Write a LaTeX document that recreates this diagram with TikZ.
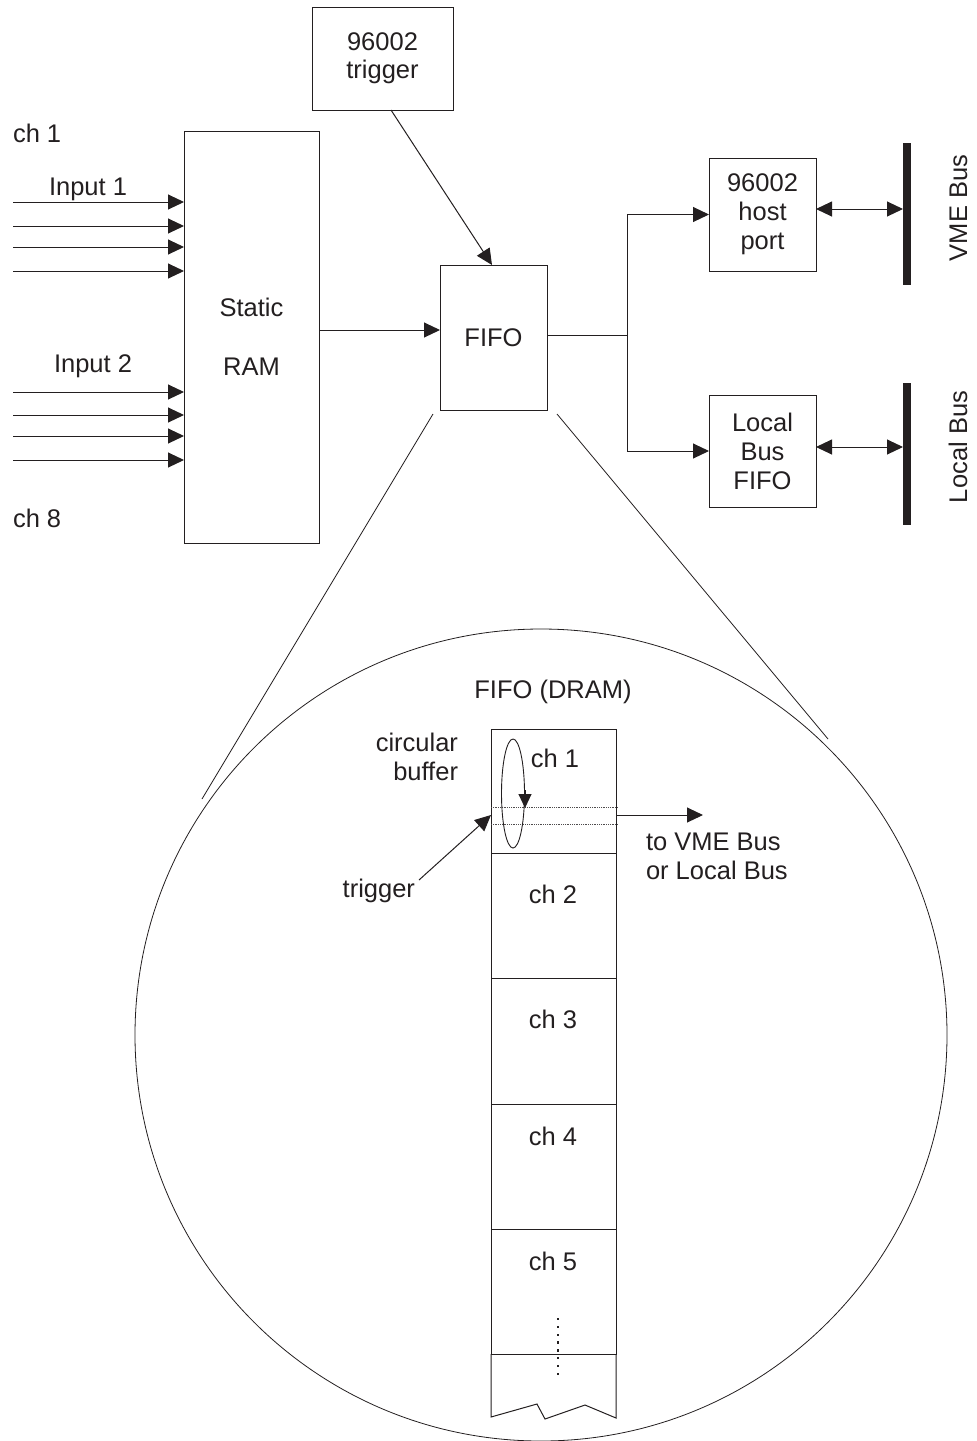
\documentclass[tikz,border=0pt]{standalone}
\usepackage{fontspec}
\setmainfont{Liberation Sans}
\usetikzlibrary{arrows.meta,shapes.geometric}
\definecolor{ink}{HTML}{231F20}
\begin{document}
\begin{tikzpicture}[x=1pt,y=-1pt,
  every node/.style={font=\fontsize{25.5}{29}\selectfont, text=ink, inner sep=0pt, outer sep=0pt},
  ln/.style={draw=ink, line width=1pt},
  blk/.style={ln, align=center},
  arr/.style={ln, -{Triangle[length=16pt,width=15pt]}},
  darr/.style={ln, {Triangle[length=16pt,width=15pt]}-{Triangle[length=16pt,width=15pt]}},
  bar/.style={fill=ink, minimum width=8pt, minimum height=142pt},
  lbl/.style={anchor=base},
  thin/.style={draw=ink, line width=0.8pt}
]
\useasboundingbox (0,0) rectangle (977,1441);

% ---- top blocks ----
\node[blk, minimum width=135pt, minimum height=412pt] (ram) at (251.5,337) {Static\\[30pt]RAM};
\node[blk, minimum width=141pt, minimum height=103pt, font=\fontsize{25.5}{28}\selectfont] (trig) at (382.5,58.5) {96002\\trigger};
\node[blk, minimum width=107pt, minimum height=145pt] (fifo) at (493.5,337.5) {FIFO};
\node[blk, minimum width=107pt, minimum height=113pt] (host) at (762.5,214.5) {96002\\host\\port};
\node[blk, minimum width=107pt, minimum height=112pt] (lbf) at (762.5,451) {Local\\Bus\\FIFO};
\node[bar] (vme) at (907,214) {};
\node[bar] (lbus) at (907,454) {};
\node[rotate=90, anchor=base] (vmel) at (967,208) {VME Bus};
\node[rotate=90, anchor=base] (lbusl) at (967,447) {Local Bus};

% ---- input labels ----
\node[lbl, anchor=base west] (ch1l) at (13,142) {ch 1};
\node[lbl, anchor=base west] (ch8l) at (13,527) {ch 8};
\node[lbl] (in1) at (88,195) {Input 1};
\node[lbl] (in2) at (93,372) {Input 2};

% ---- input arrows ----
\foreach \y/\n in {202/a,226/b,247/c,271/d,392/e,415/f,436/g,460/h}{
  \coordinate (s\n) at (13,\y);
  \draw[arr] (s\n) -- (s\n -| ram.west);
}

% ---- connections ----
\draw[arr] ([xshift=8.5pt]trig.south) -- ([xshift=-1.5pt]fifo.north);
\coordinate (rf) at (0,330);
\draw[arr] (ram.east |- rf) -- (fifo.west |- rf);
\coordinate (j) at (627,335);
\draw[ln] (fifo.east |- j) -- (j);
\draw[arr] (j) |- (host.west);
\draw[arr] (j) |- (lbf.west);
\coordinate (hy) at (0,209);
\coordinate (ly) at (0,447);
\draw[darr] (host.east |- hy) -- (vme.west |- hy);
\draw[darr] (lbf.east |- ly) -- (lbus.west |- ly);

% ---- zoom lines and circle ----
\coordinate (zl1) at (433,414);
\coordinate (zl2) at (202,799);
\coordinate (zr1) at (557,414);
\coordinate (zr2) at (828,739);
\draw[thin] (zl1) -- (zl2);
\draw[thin] (zr1) -- (zr2);
\coordinate (cc) at (541,1035);
\draw[thin] (cc) circle[radius=406pt];

% ---- DRAM column ----
\node[lbl] (dramt) at (553,698) {FIFO (DRAM)};
\node[ln, minimum width=125pt, minimum height=124pt] (c1) at (553.5,791) {};
\node[ln, minimum width=125pt, minimum height=125pt] (c2) at (553.5,915.5) {};
\node[ln, minimum width=125pt, minimum height=126pt] (c3) at (553.5,1041) {};
\node[ln, minimum width=125pt, minimum height=125pt] (c4) at (553.5,1166.5) {};
\node[ln, minimum width=125pt, minimum height=125pt] (c5) at (553.5,1291.5) {};
\draw[ln] (c5.south west) -- (491,1417) -- (537,1404) -- (545,1419) -- (585,1405) -- (616,1418) -- (c5.south east);

\node[lbl] (t1) at (555,767) {ch 1};
\node[lbl] (t2) at (553,903) {ch 2};
\node[lbl] (t3) at (553,1028) {ch 3};
\node[lbl] (t4) at (553,1145) {ch 4};
\node[lbl] (t5) at (553,1270) {ch 5};

\foreach \k in {0,...,7}{
  \fill[ink] (557,1318+7.8*\k) rectangle (559.4,1320.4+7.8*\k);
}

% circular buffer details
\draw[draw=ink!80, line width=0.8pt, densely dotted] (c1.west |- 0,807) -- (618,807);
\draw[draw=ink!80, line width=0.8pt, densely dotted] (c1.west |- 0,824) -- (618,824);
\node[draw=ink, line width=0.9pt, ellipse, minimum width=23pt, minimum height=109pt] (cb) at (513,793.5) {};
\draw[ln, -{Triangle[length=14pt,width=13pt]}] (525,790) -- (525,808);

\node[anchor=base east, align=right, font=\fontsize{25.5}{29}\selectfont] (circ) at (458,780) {circular\\buffer};
\node[anchor=base east] (trgl) at (415,897) {trigger};
\coordinate (ts) at (419,880);
\draw[arr] (ts) -- (c1.west |- 0,815);
\coordinate (oe) at (703,815);
\draw[arr] (c1.east |- oe) -- (oe);
\node[anchor=base west, align=left] (tovme) at (646,879) {to VME Bus\\or Local Bus};
\end{tikzpicture}
\end{document}
